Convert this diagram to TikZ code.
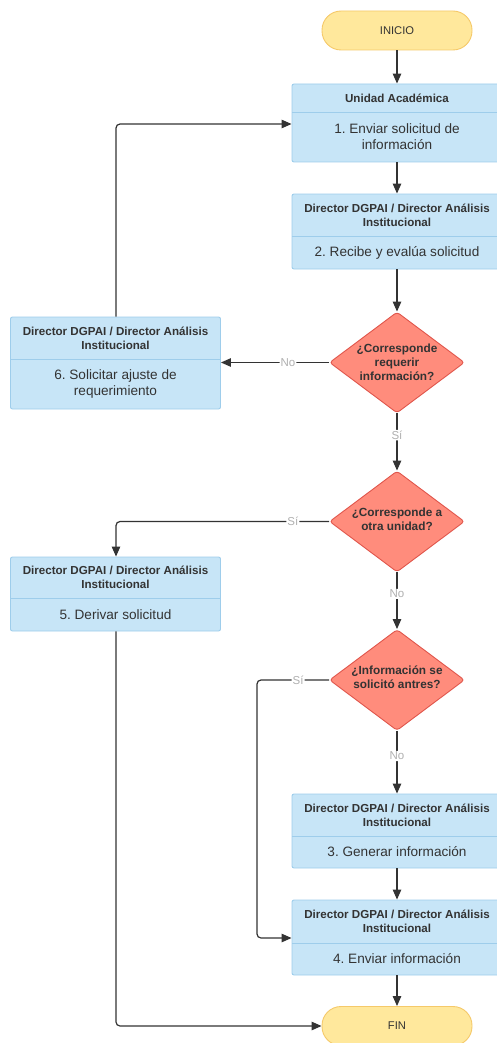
\documentclass[tikz,border=0pt]{standalone}
\usepackage{fontspec}
\setmainfont{Liberation Sans}
\usetikzlibrary{shapes.geometric,arrows.meta}
\definecolor{boxfill}{HTML}{C7E5F7}
\definecolor{boxline}{HTML}{9ECDEB}
\definecolor{decfill}{HTML}{FF8C7C}
\definecolor{decline}{HTML}{E0564C}
\definecolor{termfill}{HTML}{FFE89C}
\definecolor{termline}{HTML}{F5C96A}
\definecolor{txt}{HTML}{333333}
\definecolor{lbl}{HTML}{B0B0B0}
\definecolor{wire}{HTML}{333333}
\frenchspacing
\tikzset{
  pbox/.style={draw=boxline, fill=boxfill, line width=0.9pt, rounded corners=2pt, minimum width=210pt, inner sep=0pt},
  divider/.style={draw=boxline, line width=0.9pt},
  hdr/.style={text=txt, font=\fontsize{11.6}{14}\selectfont\bfseries, align=center},
  bdy/.style={text=txt, font=\fontsize{13.6}{16}\selectfont, align=center},
  dec/.style={diamond, draw=decline, fill=decfill, line width=0.9pt, rounded corners=3pt, minimum width=135pt, minimum height=101pt, inner sep=0pt},
  dectxt/.style={text=txt, font=\fontsize{11.8}{14}\selectfont\bfseries, align=center},
  term/.style={draw=termline, fill=termfill, line width=0.9pt, rounded corners=19pt, minimum width=150pt, minimum height=39pt, text=txt, font=\fontsize{11.2}{13}\selectfont},
  conn/.style={draw=wire, line width=1.2pt, rounded corners=4pt, -{Triangle[length=10pt,width=8.5pt]}},
  clbl/.style={text=lbl, fill=white, inner sep=1pt, font=\fontsize{11.5}{13}\selectfont},
}
\newcommand\procbox[7]{%
  \node[pbox, minimum height={(#5-#3)*1pt}] (#1) at (#2,{(#3+#5)/2}) {};
  \draw[divider] ({#2-105},#4) -- ({#2+105},#4);
  \node[hdr] (#1h) at (#2,{(#3+#4)/2}) {#6};
  \node[bdy] (#1b) at (#2,{(#4+#5)/2}) {#7};
}
\begin{document}
\begin{tikzpicture}[x=1pt,y=-1pt]
\useasboundingbox (0,0) rectangle (497,1043);
\node[term] (ini) at (397,30.5) {INICIO};
\procbox{b1}{397}{84}{112}{162}{Unidad Académica}{1. Enviar solicitud de\\información}
\procbox{b2}{397}{194}{236}{269}{Director DGPAI / Director Análisis\\Institucional}{2. Recibe y evalúa solicitud}
\node[dec] (d1) at (397,362.5) {};
\node[dectxt] at (d1) {¿Corresponde\\requerir\\información?};
\procbox{b6}{115.5}{317}{359}{409}{Director DGPAI / Director Análisis\\Institucional}{6. Solicitar ajuste de\\requerimiento}
\node[dec] (d2) at (397,521.5) {};
\node[dectxt] at ([yshift=2.5pt]d2) {¿Corresponde a\\otra unidad?};
\procbox{b5}{115.5}{557}{598}{631}{Director DGPAI / Director Análisis\\Institucional}{5. Derivar solicitud}
\node[dec] (d3) at (397,680) {};
\node[dectxt] at ([yshift=2.5pt]d3) {¿Información se\\solicitó antres?};
\procbox{b3}{397}{794}{836}{868}{Director DGPAI / Director Análisis\\Institucional}{3. Generar información}
\procbox{b4}{397}{900}{943}{975}{Director DGPAI / Director Análisis\\Institucional}{4. Enviar información}
\node[term] (fin) at (397,1026) {FIN};
\coordinate (k1) at (116,124);
\coordinate (k2) at (116,521.5);
\coordinate (k3) at (257,680);
\coordinate (k4) at (257,938);
\coordinate (k5) at (116,1026);
\draw[conn] (ini.south) -- (b1.north);
\draw[conn] (b1.south) -- (b2.north);
\draw[conn] (b2.south) -- (d1.north);
\draw[conn] (d1.west) -- node[clbl, pos=0.38] {No} (b6.east |- d1.west);
\draw[conn] (b6.north -| k1) -- (k1) -- (b1.west |- k1);
\draw[conn] (d1.south) -- node[clbl, pos=0.38] {Sí} (d2.north);
\draw[conn] (d2.west) -- node[clbl, pos=0.17] {Sí} (k2) -- (b5.north -| k2);
\draw[conn] (d2.south) -- node[clbl, pos=0.38] {No} (d3.north);
\draw[conn] (d3.west) -- node[clbl, pos=0.43] {Sí} (k3) -- (k4) -- (b4.west |- k4);
\draw[conn] (d3.south) -- node[clbl, pos=0.4] {No} (b3.north);
\draw[conn] (b3.south) -- (b4.north);
\draw[conn] (b4.south) -- (fin.north);
\draw[conn] (b5.south -| k5) -- (k5) -- (fin.west);
\end{tikzpicture}
\end{document}
